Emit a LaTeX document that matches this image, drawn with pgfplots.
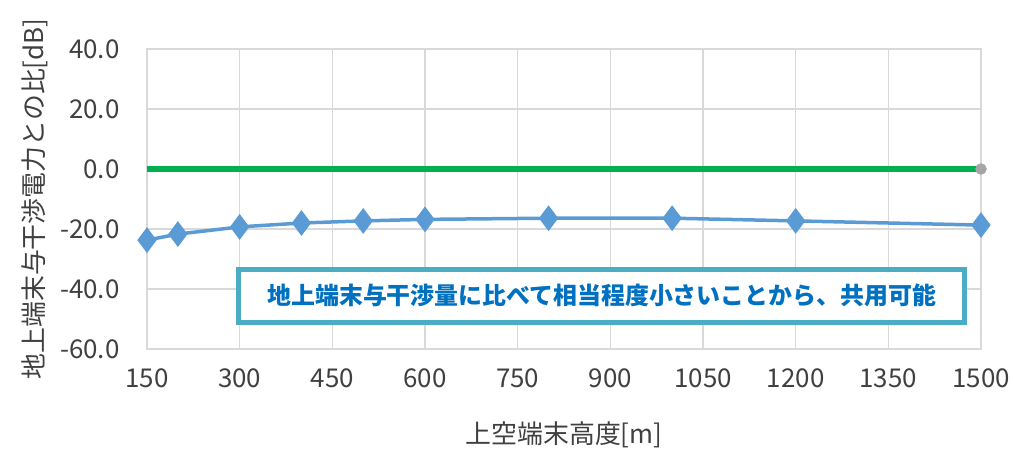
\documentclass[border=0pt]{standalone}
\usepackage{fontspec}
\setmainfont{Noto Sans CJK JP}
\usepackage{pgfplots}
\pgfplotsset{compat=1.18}
\definecolor{gridgray}{RGB}{217,217,217}
\definecolor{serblue}{RGB}{91,155,213}
\definecolor{sergreen}{RGB}{0,176,80}
\definecolor{endgray}{RGB}{166,166,166}
\definecolor{boxcyan}{RGB}{75,172,198}
\definecolor{txtblue}{RGB}{0,112,192}
\definecolor{ticktxt}{RGB}{64,64,64}
\begin{document}
\begin{tikzpicture}
\useasboundingbox (-147bp,-102bp) rectangle (866bp,349bp);
\begin{axis}[
    scale only axis,
    width=834bp, height=300bp,
    xmin=150, xmax=1500,
    ymin=-60, ymax=40,
    xtick={150,300,...,1500},
    ytick={-60,-40,...,40},
    grid=major,
    major grid style={gridgray, line width=1.5bp},
    axis line style={gridgray, line width=1.5bp},
    major tick length=0pt,
    tick label style={font=\fontsize{26}{30}\selectfont, text=ticktxt},
    /pgf/number format/assume math mode=true,
    /pgf/number format/1000 sep={},
    yticklabel={\pgfmathprintnumber[fixed,fixed zerofill,precision=1]{\tick}},
    xticklabel style={yshift=-16bp},
    yticklabel style={xshift=-24bp},
    xlabel={上空端末高度[m]},
    ylabel={地上端末与干渉電力との比[dB]},
    label style={font=\fontsize{26}{30}\selectfont, text=ticktxt},
    xlabel style={at={(axis description cs:0.5,-0.287)}, anchor=center},
    ylabel style={at={(axis description cs:-0.134,0.5)}, anchor=center},
    clip=false,
]
\addplot[sergreen, line width=6bp] coordinates {(150,0) (1500,0)};
\addplot[only marks, mark=*, mark size=5.5bp, endgray] coordinates {(1500,0)};
\addplot[serblue, line width=3.5bp, mark=diamond*, mark size=10bp,
    mark options={serblue}] coordinates {
    (150,-23.7) (200,-21.7) (300,-19.3) (400,-18.0) (500,-17.3)
    (600,-16.8) (800,-16.4) (1000,-16.4) (1200,-17.3) (1500,-18.7)};
\node[draw=boxcyan, line width=4.5bp, fill=white, minimum width=726bp,
    minimum height=53bp, text=txtblue,
    font=\fontsize{24}{28}\selectfont\bfseries]
    at (axis cs:886,-42.3) {地上端末与干渉量に比べて相当程度小さいことから、共用可能};
\end{axis}
\end{tikzpicture}
\end{document}
